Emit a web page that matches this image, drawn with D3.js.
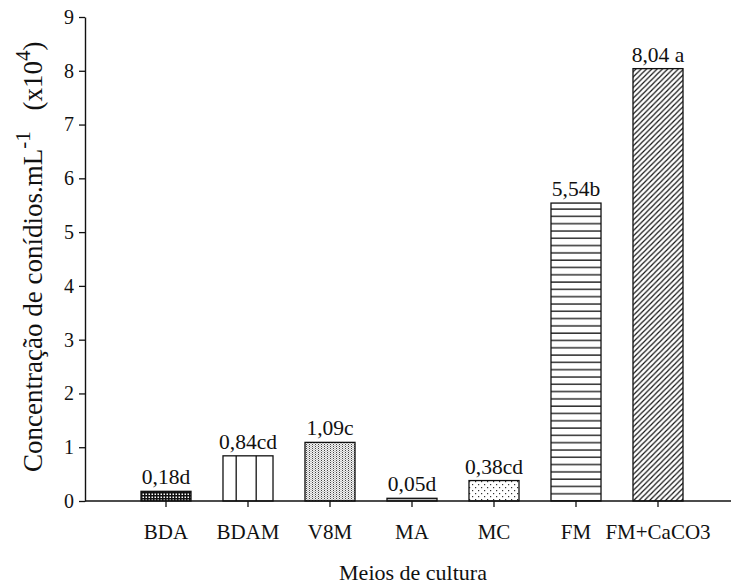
<!DOCTYPE html>
<html>
<head>
<meta charset="utf-8">
<script src="https://d3js.org/d3.v7.min.js"></script>
<style>
  body { margin: 0; background: #fff; }
  svg text { font-family: "Liberation Serif", "DejaVu Serif", serif; fill: #111; }
</style>
</head>
<body>
<svg id="chart" width="731" height="587"></svg>
<script>
var categories = ['BDA', 'BDAM', 'V8M', 'MA', 'MC', 'FM', 'FM+CaCO3'];
var values = [0.18, 0.84, 1.09, 0.05, 0.38, 5.54, 8.04];
var valueLabels = ['0,18d', '0,84cd', '1,09c', '0,05d', '0,38cd', '5,54b', '8,04 a'];
var patterns = ['cross', 'vlines', 'dense', 'thin', 'dots', 'hlines', 'diag'];
var yTicks = [0, 1, 2, 3, 4, 5, 6, 7, 8, 9];

(function () {
    var svg = d3.select('#chart');
    var plot = { left: 85, right: 731, top: 17, bottom: 501 };

    var x = d3.scaleBand()
        .domain(categories)
        .range([125, 699])
        .paddingInner(0.39)
        .paddingOuter(0.195);

    var y = d3.scaleLinear()
        .domain([0, 9])
        .range([plot.bottom, plot.top]);

    // fill patterns
    var defs = svg.append('defs');
    var pat = function (id, w, h, bg) {
        var p = defs.append('pattern').attr('id', id)
            .attr('patternUnits', 'userSpaceOnUse')
            .attr('width', w).attr('height', h);
        p.append('rect').attr('width', w).attr('height', h).attr('fill', bg);
        return p;
    };

    var p = pat('cross', 3, 3, '#fff');
    p.append('rect').attr('width', 3).attr('height', 1.5).attr('fill', '#111');
    p.append('rect').attr('width', 1.5).attr('height', 3).attr('fill', '#111');

    p = pat('vlines', 20, 10, '#fff');
    p.append('rect').attr('x', 15.5).attr('width', 1.4).attr('height', 10).attr('fill', '#222');

    p = pat('dense', 3, 2, '#f2f2f2');
    p.append('rect').attr('width', 1).attr('height', 1).attr('fill', '#444');
    p.append('rect').attr('x', 1.5).attr('y', 1).attr('width', 1).attr('height', 1).attr('fill', '#999');

    p = pat('thin', 2, 2, '#bbb');

    p = pat('dots', 6, 6, '#fff');
    p.append('rect').attr('x', 1).attr('y', 1).attr('width', 1.2).attr('height', 1.2).attr('fill', '#333');
    p.append('rect').attr('x', 4).attr('y', 4).attr('width', 1.2).attr('height', 1.2).attr('fill', '#333');

    p = pat('hlines', 10, 7.3, '#fff');
    p.append('rect').attr('y', 4).attr('width', 10).attr('height', 1.4).attr('fill', '#222');

    p = pat('diag', 5.3, 5.3, '#fff');
    p.append('path').attr('d', 'M0,5.3 L5.3,0 M-1,1 L1,-1 M4.3,6.3 L6.3,4.3')
        .attr('stroke', '#111').attr('stroke-width', 1.2);

    // bars
    svg.append('g').selectAll('rect')
        .data(values)
        .join('rect')
        .attr('x', function (d, i) { return x(categories[i]); })
        .attr('y', function (d) { return y(d); })
        .attr('width', x.bandwidth())
        .attr('height', function (d) { return y(0) - y(d); })
        .attr('fill', function (d, i) { return 'url(#' + patterns[i] + ')'; })
        .attr('stroke', '#111')
        .attr('stroke-width', 1.3);

    // value labels
    svg.append('g').selectAll('text')
        .data(values)
        .join('text')
        .attr('x', function (d, i) { return x(categories[i]) + x.bandwidth() / 2; })
        .attr('y', function (d) { return y(d) - 7; })
        .attr('text-anchor', 'middle')
        .style('font-size', '21.5px')
        .text(function (d, i) { return valueLabels[i]; });

    // y axis
    var yAxis = svg.append('g')
        .attr('transform', 'translate(' + plot.left + ',0)')
        .call(d3.axisLeft(y).tickValues(yTicks).tickSize(6).tickSizeOuter(0).tickPadding(5));
    yAxis.select('.domain').attr('stroke', '#111').attr('stroke-width', 1.4);
    yAxis.selectAll('.tick line').attr('stroke', '#111').attr('stroke-width', 1.3);
    yAxis.selectAll('text').style('font-size', '20px').attr('font-family', null);

    // x axis
    var xAxis = svg.append('g')
        .attr('transform', 'translate(0,' + plot.bottom + ')')
        .call(d3.axisBottom(x).tickSize(6).tickSizeOuter(0).tickPadding(0));
    xAxis.select('.domain').remove();
    xAxis.append('line').attr('x1', plot.left).attr('x2', plot.right)
        .attr('stroke', '#111').attr('stroke-width', 1.4);
    xAxis.selectAll('.tick line').attr('stroke', '#111').attr('stroke-width', 1.3);
    xAxis.selectAll('.tick text')
        .attr('y', 38).attr('dy', null)
        .style('font-size', '21px').attr('font-family', null);

    // axis titles
    svg.append('text')
        .attr('x', 413)
        .attr('y', 580)
        .attr('text-anchor', 'middle')
        .style('font-size', '22px')
        .text('Meios de cultura');

    var yt = svg.append('text')
        .attr('transform', 'translate(42,472) rotate(-90)')
        .attr('text-anchor', 'start')
        .style('font-size', '27px');
    yt.append('tspan').text('Concentração de conídios.mL');
    yt.append('tspan').attr('dy', -12).style('font-size', '21px').text('-1');
    yt.append('tspan').attr('dy', 12).attr('dx', 14).text(' (x10');
    yt.append('tspan').attr('dy', -12).style('font-size', '21px').text('4');
    yt.append('tspan').attr('dy', 12).text(')');
})();
</script>
</body>
</html>
